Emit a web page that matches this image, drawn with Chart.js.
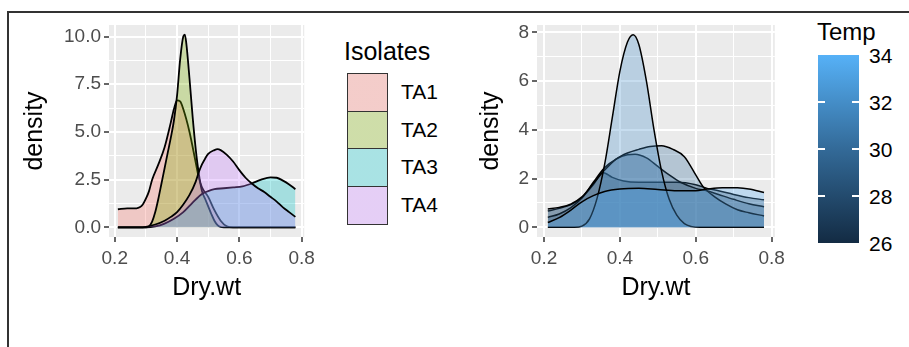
<!DOCTYPE html>
<html>
<head>
<meta charset="utf-8">
<script src="https://cdn.jsdelivr.net/npm/chart.js@4.4.1/dist/chart.umd.min.js"></script>
<style>
  body { margin: 0; background: #fff; font-family: 'Liberation Sans', Arial, sans-serif; }
  #wrap { position: relative; width: 909px; height: 347px; overflow: hidden; }
  .frame { position: absolute; left: 7px; top: 11px; right: 0; bottom: 0; border-top: 2px solid #333; border-left: 2px solid #333; }
  canvas { position: absolute; top: 0; }
  #leftChart { left: 0; }
  #rightChart { left: 470px; }
  .abs { position: absolute; white-space: nowrap; }
  .legTitle { font-size: 25px; line-height: 28px; color: #000; }
  .legKey { box-sizing: border-box; border: 1.5px solid #333; }
  .legText { font-size: 21px; line-height: 24px; color: #000; }
  .barTick { position: absolute; width: 7px; height: 2px; background: #fff; }
</style>
</head>
<body>
<div id="wrap">
  <div class="frame"></div>
  <canvas id="leftChart" width="320" height="347"></canvas>
  <canvas id="rightChart" width="320" height="347"></canvas>
  <div id="isoLegend"></div>
  <div id="tempLegend"></div>
</div>
<script>
// Axis breaks and limits
const xBreaks = [0.2, 0.4, 0.6, 0.8];
const xMinor = [0.3, 0.5, 0.7];
const xLimits = [0.1815, 0.8085];

const leftYBreaks = [0, 2.5, 5, 7.5, 10];
const leftYMinor = [1.25, 3.75, 6.25, 8.75];
const leftYLimits = [-0.505, 10.605];

const rightYBreaks = [0, 2, 4, 6, 8];
const rightYMinor = [1, 3, 5, 7];
const rightYLimits = [-0.395, 8.3];

// Left panel: density by isolate
const isolates = ['TA1', 'TA2', 'TA3', 'TA4'];
const isolateColours = ['#F8766D', '#7CAE00', '#00BFC4', '#C77CFF'];

const ta1X = [0.21, 0.24, 0.27, 0.28, 0.29, 0.30, 0.31, 0.32, 0.34, 0.36, 0.38, 0.39, 0.40, 0.41, 0.42, 0.44, 0.46, 0.47, 0.48, 0.50, 0.52, 0.54, 0.56, 0.58, 0.78];
const ta1Y = [0.95, 1.0, 1.0, 1.05, 1.2, 1.5, 1.9, 2.5, 3.3, 4.2, 5.5, 6.2, 6.65, 6.6, 6.2, 5.0, 3.4, 2.6, 2.1, 1.6, 0.9, 0.35, 0.05, 0, 0];

const ta2X = [0.21, 0.30, 0.31, 0.32, 0.33, 0.34, 0.35, 0.36, 0.37, 0.38, 0.39, 0.40, 0.41, 0.42, 0.425, 0.43, 0.44, 0.45, 0.46, 0.47, 0.48, 0.49, 0.50, 0.51, 0.52, 0.53, 0.54, 0.55, 0.78];
const ta2Y = [0, 0, 0.05, 0.3, 0.8, 1.5, 2.3, 3.1, 3.9, 4.7, 5.6, 6.9, 8.8, 10.0, 10.1, 9.6, 7.8, 5.8, 4.1, 2.8, 1.9, 1.5, 1.1, 0.7, 0.35, 0.12, 0.02, 0, 0];

const ta3X = [0.21, 0.30, 0.33, 0.36, 0.39, 0.42, 0.45, 0.48, 0.50, 0.52, 0.55, 0.58, 0.61, 0.64, 0.67, 0.70, 0.72, 0.74, 0.76, 0.78];
const ta3Y = [0, 0, 0.05, 0.2, 0.45, 0.8, 1.3, 1.75, 1.9, 2.0, 2.05, 2.1, 2.15, 2.3, 2.5, 2.62, 2.6, 2.45, 2.25, 2.0];

const ta4X = [0.21, 0.28, 0.30, 0.33, 0.36, 0.38, 0.40, 0.42, 0.44, 0.46, 0.47, 0.48, 0.49, 0.50, 0.52, 0.53, 0.54, 0.56, 0.58, 0.60, 0.62, 0.64, 0.66, 0.68, 0.70, 0.72, 0.74, 0.76, 0.78];
const ta4Y = [0, 0, 0.03, 0.15, 0.35, 0.55, 0.8, 1.2, 1.7, 2.4, 2.9, 3.3, 3.6, 3.85, 4.05, 4.1, 4.05, 3.8, 3.45, 3.0, 2.6, 2.3, 2.05, 1.85, 1.6, 1.35, 1.05, 0.8, 0.55];

// Right panel: density by temperature
const tempLimits = [26, 34];
const tempBreaks = [26, 28, 30, 32, 34];
const curveTemps = [32, 30, 28, 34, 26];

const aX = [0.21, 0.28, 0.30, 0.32, 0.34, 0.36, 0.38, 0.40, 0.42, 0.435, 0.45, 0.47, 0.49, 0.51, 0.53, 0.55, 0.57, 0.59, 0.61, 0.78];
const aY = [0, 0, 0.05, 0.35, 1.2, 2.6, 4.5, 6.4, 7.6, 7.9, 7.5, 6.0, 4.0, 2.3, 1.15, 0.5, 0.15, 0.03, 0, 0];

const bX = [0.21, 0.24, 0.27, 0.30, 0.33, 0.36, 0.39, 0.42, 0.45, 0.48, 0.51, 0.54, 0.57, 0.60, 0.62, 0.65, 0.68, 0.71, 0.74, 0.78];
const bY = [0.75, 0.82, 0.95, 1.25, 1.8, 2.35, 2.8, 3.05, 3.2, 3.32, 3.35, 3.2, 2.9, 2.15, 1.65, 1.25, 0.95, 0.72, 0.6, 0.47];

const cX = [0.21, 0.24, 0.27, 0.30, 0.33, 0.36, 0.39, 0.42, 0.44, 0.47, 0.50, 0.53, 0.56, 0.60, 0.63, 0.66, 0.70, 0.74, 0.78];
const cY = [0.41, 0.55, 0.8, 1.2, 1.85, 2.45, 2.8, 2.98, 3.0, 2.85, 2.5, 2.15, 1.85, 1.6, 1.5, 1.35, 1.15, 0.97, 0.85];

const dX = [0.21, 0.24, 0.27, 0.30, 0.33, 0.36, 0.40, 0.45, 0.50, 0.55, 0.60, 0.63, 0.67, 0.71, 0.74, 0.78];
const dY = [0.2, 0.4, 0.7, 1.05, 1.3, 1.47, 1.57, 1.6, 1.55, 1.5, 1.5, 1.57, 1.63, 1.62, 1.57, 1.43];

const eX = [0.21, 0.24, 0.27, 0.30, 0.33, 0.355, 0.38, 0.41, 0.45, 0.50, 0.55, 0.60, 0.63, 0.66, 0.70, 0.74, 0.78];
const eY = [0.67, 0.78, 0.92, 1.22, 1.75, 2.25, 2.05, 1.9, 1.85, 1.85, 1.85, 1.75, 1.6, 1.5, 1.35, 1.22, 1.13];

const leftCurves = [[ta1X, ta1Y], [ta2X, ta2Y], [ta3X, ta3Y], [ta4X, ta4Y]];
const rightCurves = [[aX, aY], [bX, bY], [cX, cY], [dX, dY], [eX, eY]];

const FONT = "'Liberation Sans', Arial, sans-serif";
Chart.defaults.font.family = FONT;

function rgba(hex, a) {
    const n = parseInt(hex.slice(1), 16);
    return `rgba(${n >> 16}, ${(n >> 8) & 255}, ${n & 255}, ${a})`;
}

function tempColour(t, a) {
    const lo = [19, 43, 67], hi = [86, 177, 247];
    const f = (t - tempLimits[0]) / (tempLimits[1] - tempLimits[0]);
    const c = lo.map((v, i) => Math.round(v + (hi[i] - v) * f));
    return `rgba(${c[0]}, ${c[1]}, ${c[2]}, ${a})`;
}

function toPoints(xs, ys) {
    return xs.map((x, i) => ({ x: x, y: ys[i] }));
}

function tickList(majors, minors) {
    return majors.map(v => ({ value: v, isMajor: true }))
        .concat(minors.map(v => ({ value: v, isMajor: false })))
        .sort((a, b) => a.value - b.value);
}

// grey panel background like ggplot
const panelBg = {
    id: 'panelBg',
    beforeDraw(chart) {
        const { ctx, chartArea: a } = chart;
        ctx.save();
        ctx.fillStyle = '#EBEBEB';
        ctx.fillRect(a.left, a.top, a.right - a.left, a.bottom - a.top);
        ctx.restore();
    }
};

function gridOpts() {
    return {
        color: '#FFFFFF',
        lineWidth: c => (c.tick && c.tick.isMajor ? 2 : 1),
        tickColor: c => (c.tick && c.tick.isMajor ? '#333333' : 'rgba(0,0,0,0)'),
        tickWidth: 1.5,
        tickLength: 5,
        drawTicks: true
    };
}

function axisOpts(limits, majors, minors, fmt, title, size, titlePad, tickPad) {
    return {
        type: 'linear',
        min: limits[0],
        max: limits[1],
        border: { display: false },
        grid: gridOpts(),
        afterBuildTicks: s => { s.ticks = tickList(majors, minors); },
        ticks: {
            autoSkip: false,
            maxRotation: 0,
            padding: tickPad,
            color: '#4D4D4D',
            font: { size: 19 },
            callback: (v, i, ticks) => (ticks[i].isMajor ? fmt(v) : '')
        },
        title: { display: true, text: title, color: '#000', font: { size: 25 }, padding: titlePad },
        afterFit: s => { if (size.w) s.width = size.w; if (size.h) s.height = size.h; }
    };
}

function makeChart(id, datasets, yLimits, yMajors, yMinors, yFmt, yWidth, yTitlePad, padRight) {
    return new Chart(document.getElementById(id), {
        type: 'line',
        data: { datasets: datasets },
        options: {
            responsive: false,
            animation: false,
            layout: { padding: { left: 0, top: 25, right: padRight, bottom: 35 } },
            elements: { point: { radius: 0 }, line: { cubicInterpolationMode: 'monotone' } },
            plugins: { legend: { display: false }, tooltip: { enabled: false } },
            scales: {
                x: axisOpts(xLimits, xBreaks, xMinor, v => v.toFixed(1), 'Dry.wt', { h: 75 }, { top: 0, bottom: 9 }, 5),
                y: axisOpts(yLimits, yMajors, yMinors, yFmt, 'density', { w: yWidth }, yTitlePad, 3)
            }
        },
        plugins: [panelBg]
    });
}

const leftSets = leftCurves.map((c, i) => ({
    label: isolates[i],
    data: toPoints(c[0], c[1]),
    backgroundColor: rgba(isolateColours[i], 0.3),
    borderColor: '#000',
    borderWidth: 1.8,
    fill: 'origin',
    order: -i
}));

const rightSets = rightCurves.map((c, i) => ({
    label: 'Temp ' + curveTemps[i],
    data: toPoints(c[0], c[1]),
    backgroundColor: tempColour(curveTemps[i], 0.3),
    borderColor: '#000',
    borderWidth: 1.5,
    fill: 'origin',
    order: -curveTemps[i]
}));

makeChart('leftChart', leftSets, leftYLimits, leftYBreaks, leftYMinor, v => v.toFixed(1), 109, { top: 20, bottom: 0 }, 13);
makeChart('rightChart', rightSets, rightYLimits, rightYBreaks, rightYMinor, v => String(v), 67, { top: 6, bottom: 0 }, 14);

// Isolates legend
const iso = document.getElementById('isoLegend');
let html = '<div class="abs legTitle" style="left:344px;top:37px">Isolates</div>';
isolates.forEach((name, i) => {
    const top = 73 + i * 37.7;
    html += `<div class="abs legKey" style="left:347px;top:${top}px;width:41px;height:38.5px;` +
        `background:linear-gradient(${rgba(isolateColours[i], 0.3)},${rgba(isolateColours[i], 0.3)}),#F2F2F2"></div>`;
    html += `<div class="abs legText" style="left:401px;top:${top + 7}px">${name}</div>`;
});
iso.innerHTML = html;

// Temp colour bar
const tl = document.getElementById('tempLegend');
const barTop = 55, barH = 188;
let th = '<div class="abs legTitle" style="left:817px;top:18px;font-size:24px">Temp</div>';
th += `<div class="abs" style="left:818px;top:${barTop}px;width:41px;height:${barH}px;` +
    `background:linear-gradient(to bottom, ${tempColour(34, 1)}, #336A98, ${tempColour(26, 1)})"></div>`;
tempBreaks.forEach(t => {
    const y = barTop + barH * (tempLimits[1] - t) / (tempLimits[1] - tempLimits[0]);
    if (t > tempLimits[0] && t < tempLimits[1]) {
        th += `<div class="barTick" style="left:818px;top:${y - 1}px"></div>`;
        th += `<div class="barTick" style="left:852px;top:${y - 1}px"></div>`;
    }
    th += `<div class="abs legText" style="left:869px;top:${y - 11}px">${t}</div>`;
});
tl.innerHTML = th;
</script>
</body>
</html>
